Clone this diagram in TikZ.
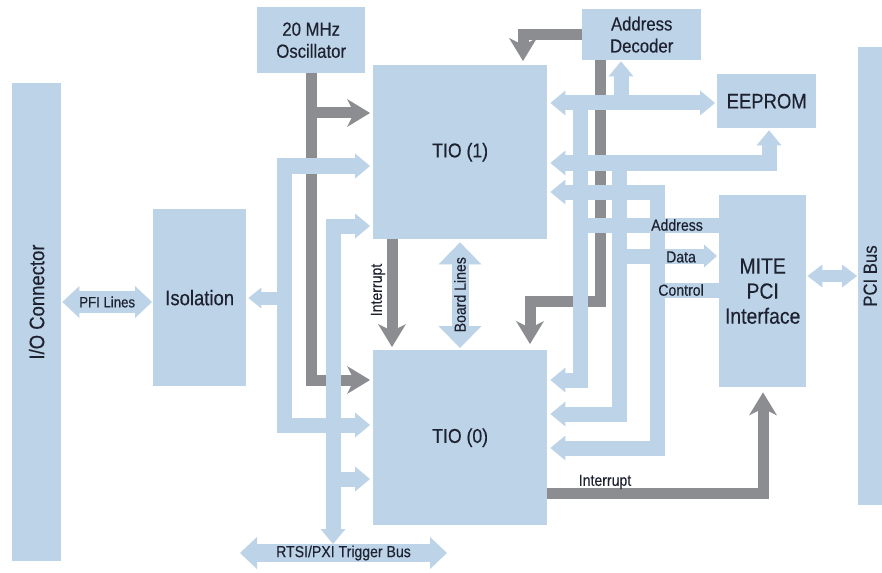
\documentclass[tikz,border=0pt]{standalone}
\usepackage{fontspec}
\setmainfont{Liberation Sans}[FakeStretch=0.88,FakeBold=0.35]
\usetikzlibrary{arrows.meta}
\definecolor{bb}{RGB}{189,211,232}
\definecolor{gg}{RGB}{140,141,145}
\definecolor{tx}{RGB}{30,34,48}
\begin{document}
\begin{tikzpicture}[x=1pt,y=-1pt,
  box/.style={fill=bb, draw=none, text=tx, align=center, inner sep=0pt, anchor=north west, font=\fontsize{20}{22}\selectfont},
  lab/.style={text=tx, inner sep=0pt, font=\fontsize{16}{18}\selectfont},
  biglab/.style={text=tx, inner sep=0pt, font=\fontsize{21}{23}\selectfont},
  bus/.style={draw=bb, line width=15pt, line join=miter},
  busR/.style={bus, arrows={-Triangle[length=15pt,width=25pt,line width=0pt]}},
  busLR/.style={bus, arrows={Triangle[length=15pt,width=25pt,line width=0pt]-Triangle[length=15pt,width=25pt,line width=0pt]}},
  gl/.style={draw=gg, line width=11pt, line join=miter, arrows={-Stealth[length=23pt,width=28pt,inset=7pt,line width=0pt]}}
]
\useasboundingbox[fill=white] (0,0) rectangle (882,572);

% boxes
\node[box, minimum width=49pt, minimum height=478pt] (io) at (12,83) {};
\node[biglab, rotate=90] at (io.center |- 0,302) {I/O Connector};
\node[box, minimum width=93pt, minimum height=177pt, font=\fontsize{21}{23}\selectfont] (iso) at (153,209) {Isolation};
\node[box, minimum width=108pt, minimum height=66pt, font=\fontsize{19}{22}\selectfont] (osc) at (257,7) {20 MHz\\Oscillator};
\node[box, minimum width=174pt, minimum height=174pt] (tio1) at (373,65) {TIO (1)};
\node[box, minimum width=174pt, minimum height=175pt] (tio0) at (373,350) {TIO (0)};
\node[box, minimum width=119pt, minimum height=51pt, font=\fontsize{19}{22}\selectfont] (addr) at (582,9) {Address\\Decoder};
\node[box, minimum width=99pt, minimum height=54pt, font=\fontsize{21}{23}\selectfont] (eep) at (717,74) {EEPROM};
\node[box, minimum width=87pt, minimum height=192pt, font=\fontsize{22}{25}\selectfont] (mite) at (719,195) {MITE\\PCI\\Interface};
\node[box, minimum width=24pt, minimum height=458pt] (pci) at (858,47) {};
\node[biglab, rotate=90, font=\fontsize{19}{21}\selectfont] at (pci.center |- 0,276) {PCI Bus};

% gray signal lines
\draw[gl, shorten >=3pt] (osc.south) -- (osc.south |- 0,380) -- (tio0.west |- 0,380);
\draw[gl, shorten >=3pt] (osc.south |- 0,113) -- (tio1.west |- 0,113);
\draw[gl, shorten >=4pt] (addr.west) -- (addr.west -| 523,0) -- (tio1.north -| 523,0);
\draw[gl, shorten >=6pt] (addr.south -| 600,0) -- (600,301) -- (530,301) -- (tio0.north -| 530,0);
\draw[gl, shorten >=3pt] (tio1.south -| 392,0) -- (tio0.north -| 392,0);
\draw[gl, shorten >=5pt] (tio0.east |- 0,493) -- (763,493) -- (mite.south -| 763,0);

% left buses
\coordinate (rL) at (240,553);
\coordinate (rR) at (447,553);
\coordinate (rT) at (333,544);
\draw[busLR, shorten <=3pt, shorten >=3pt] (tio1.west |- 0,166) -- (284,166) -- (284,425) -- (tio0.west |- 0,425);
\draw[bus, line width=13pt, arrows={-Triangle[length=13pt,width=21pt,line width=0pt]}, shorten >=2pt] (284,298) -- (iso.east |- 0,298);
\draw[busLR, shorten <=3pt] (tio1.west |- 0,226) -- (333,226) -- (rT);
\draw[busR, shorten >=3pt] (333,479) -- (tio0.west |- 0,479);
\draw[bus, line width=18pt, arrows={Triangle[length=17pt,width=32pt,line width=0pt]-Triangle[length=17pt,width=32pt,line width=0pt]}] (rL) -- (rR) node[midway, lab] {RTSI/PXI Trigger Bus};
\draw[bus, line width=22pt, arrows={Triangle[length=17pt,width=32pt,line width=0pt]-Triangle[length=17pt,width=32pt,line width=0pt]}, shorten <=1pt, shorten >=1pt] (io.east |- 0,302) -- (iso.west |- 0,302) node[midway, lab, font=\fontsize{15}{17}\selectfont] {PFI Lines};
\draw[bus, line width=17pt, arrows={Triangle[length=22pt,width=43pt,line width=0pt]-Triangle[length=22pt,width=43pt,line width=0pt]}, shorten <=3pt, shorten >=2pt] (tio1.south -| 460,0) -- (tio0.north -| 460,0) node[midway, lab, rotate=90] {Board Lines};

% right buses
\draw[busLR, shorten <=3pt, shorten >=2pt] (tio1.east |- 0,103) -- (eep.west |- 0,103);
\draw[busR, shorten >=1pt] (621,103) -- (addr.south -| 621,0);
\draw[busLR, shorten <=3pt, shorten >=2pt] (tio1.east |- 0,163) -- (769,163) -- (eep.south -| 769,0);
\draw[busLR, shorten <=3pt, shorten >=3pt] (tio1.east |- 0,192) -- (657,192) -- (657,448) -- (tio0.east |- 0,448);
\draw[busR, shorten >=3pt] (580,103) -- (580,380) -- (tio0.east |- 0,380);
\draw[busR, shorten >=3pt] (619,163) -- (619,414) -- (tio0.east |- 0,414);
\draw[bus] (580,225) -- (mite.west |- 0,225);
\draw[bus, arrows={-Triangle[length=13pt,width=23pt,line width=0pt]}, shorten >=2pt] (619,256) -- (mite.west |- 0,256);
\draw[bus] (657,290) -- (mite.west |- 0,290);
\draw[bus, line width=12pt, arrows={Triangle[length=15pt,width=23pt,line width=0pt]-Triangle[length=15pt,width=23pt,line width=0pt]}, shorten <=1pt, shorten >=1pt] (mite.east |- 0,276) -- (pci.west |- 0,276);

% labels
\node[lab] at (677,225) {Address};
\node[lab] at (681,257) {Data};
\node[lab] at (681,290) {Control};
\node[lab, rotate=90] at (378,290) {Interrupt};
\node[lab] at (605,482) {Interrupt};
\end{tikzpicture}
\end{document}
